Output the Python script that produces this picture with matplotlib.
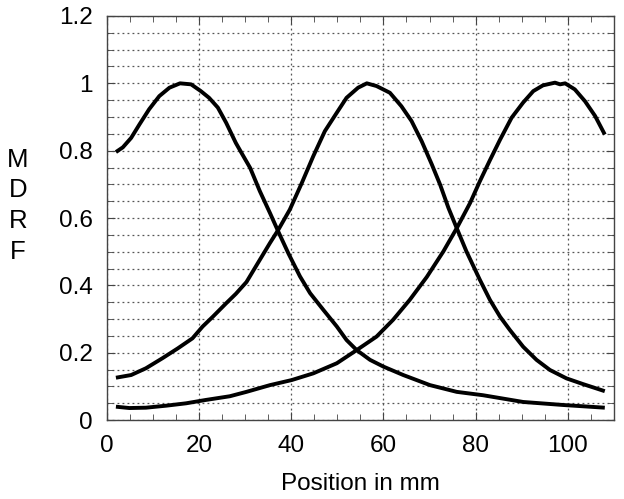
import matplotlib
matplotlib.use("Agg")
import matplotlib.pyplot as plt
from matplotlib.ticker import MultipleLocator

plt.rcParams['font.family'] = ['Liberation Sans', 'DejaVu Sans']

# Curve 1 (peak near 16 mm)
x1 = [2.0, 3.5, 5.3, 7.1, 9.2, 11.4, 13.6, 15.9, 18.3, 20.4, 22.2, 24.1, 25.9, 28.0,
      29.5, 31.1, 33.2, 35.4, 37.2, 39.4, 41.9, 44.1, 47.0, 49.9, 52.0, 54.2, 57.1,
      60.0, 64.3, 70.1, 75.9, 81.6, 90.3, 99.0, 108.0]
y1 = [0.796, 0.81, 0.838, 0.878, 0.923, 0.962, 0.987, 1.0, 0.997, 0.977, 0.957, 0.928,
      0.883, 0.823, 0.787, 0.749, 0.68, 0.615, 0.56, 0.495, 0.427, 0.377, 0.327, 0.278,
      0.238, 0.208, 0.179, 0.159, 0.134, 0.104, 0.084, 0.074, 0.054, 0.045, 0.037]

# Curve 2 (peak near 56 mm)
x2 = [2.0, 5.3, 8.5, 12.1, 15.4, 18.6, 20.8, 23.0, 25.9, 28.0, 30.3, 33.2, 35.4, 37.2,
      39.7, 42.3, 44.8, 47.3, 49.9, 52.0, 54.5, 56.4, 58.5, 61.4, 63.9, 66.1, 68.3,
      70.5, 72.3, 74.1, 75.9, 78.0, 80.9, 83.1, 85.3, 87.4, 90.3, 93.2, 96.1, 99.7,
      103.3, 108.0]
y2 = [0.126, 0.134, 0.154, 0.184, 0.213, 0.243, 0.278, 0.307, 0.347, 0.375, 0.41,
      0.476, 0.526, 0.565, 0.625, 0.704, 0.784, 0.858, 0.913, 0.957, 0.987, 1.0, 0.992,
      0.972, 0.932, 0.888, 0.828, 0.759, 0.699, 0.63, 0.57, 0.501, 0.417, 0.357, 0.307,
      0.268, 0.218, 0.179, 0.149, 0.124, 0.107, 0.086]

# Curve 3 (peak near 98 mm)
x3 = [2.0, 4.9, 8.5, 12.9, 17.2, 21.5, 26.7, 30.3, 35.4, 40.1, 44.8, 49.9, 54.2, 58.5,
      62.1, 65.7, 69.4, 73.0, 75.9, 78.8, 80.9, 83.1, 85.3, 87.8, 90.3, 92.5, 94.6,
      97.2, 98.3, 99.4, 101.5, 103.7, 105.9, 108.0]
y3 = [0.04, 0.036, 0.037, 0.043, 0.05, 0.06, 0.071, 0.084, 0.104, 0.119, 0.139, 0.169,
      0.208, 0.248, 0.298, 0.357, 0.425, 0.501, 0.57, 0.645, 0.709, 0.772, 0.833, 0.898,
      0.943, 0.977, 0.994, 1.002, 0.997, 1.0, 0.982, 0.947, 0.903, 0.848]

x_ticks = [0, 20, 40, 60, 80, 100]
y_ticks = [0, 0.2, 0.4, 0.6, 0.8, 1.0, 1.2]
y_tick_labels = ['0', '0.2', '0.4', '0.6', '0.8', '1', '1.2']

fig = plt.figure(figsize=(6.24, 4.99), dpi=100)
ax = fig.add_axes([0.171, 0.158, 0.813, 0.810])

for xs, ys in [(x1, y1), (x2, y2), (x3, y3)]:
    ax.plot(xs, ys, color='black', lw=2.8, solid_joinstyle='round',
            solid_capstyle='butt', zorder=3)

ax.set_xlim(0, 110)
ax.set_ylim(0, 1.2)
ax.set_xticks(x_ticks)
ax.set_yticks(y_ticks)
ax.set_yticklabels(y_tick_labels)
ax.xaxis.set_minor_locator(MultipleLocator(5))
ax.yaxis.set_minor_locator(MultipleLocator(0.05))

ax.grid(True, which='major', axis='x', color='#555555', linestyle=(0, (1.5, 2.5)), lw=0.9)
ax.grid(True, which='both', axis='y', color='#555555', linestyle=(0, (1.5, 2.5)), lw=0.9)

ax.tick_params(which='both', direction='in', top=True, right=True, labelsize=17.5,
               color='#444444')
ax.tick_params(which='major', length=6)
ax.tick_params(which='minor', length=4)
ax.tick_params(axis='x', which='major', pad=11)
ax.tick_params(axis='y', which='major', pad=10)

for s in ax.spines.values():
    s.set_color('#444444')
    s.set_linewidth(1.0)

ax.set_xlabel('Position in mm', fontsize=17.5, labelpad=11)
fig.text(0.029, 0.588, 'M\nD\nR\nF', fontsize=18.5, ha='center', va='center',
         linespacing=1.35)

fig.savefig('out.png', dpi=100)
